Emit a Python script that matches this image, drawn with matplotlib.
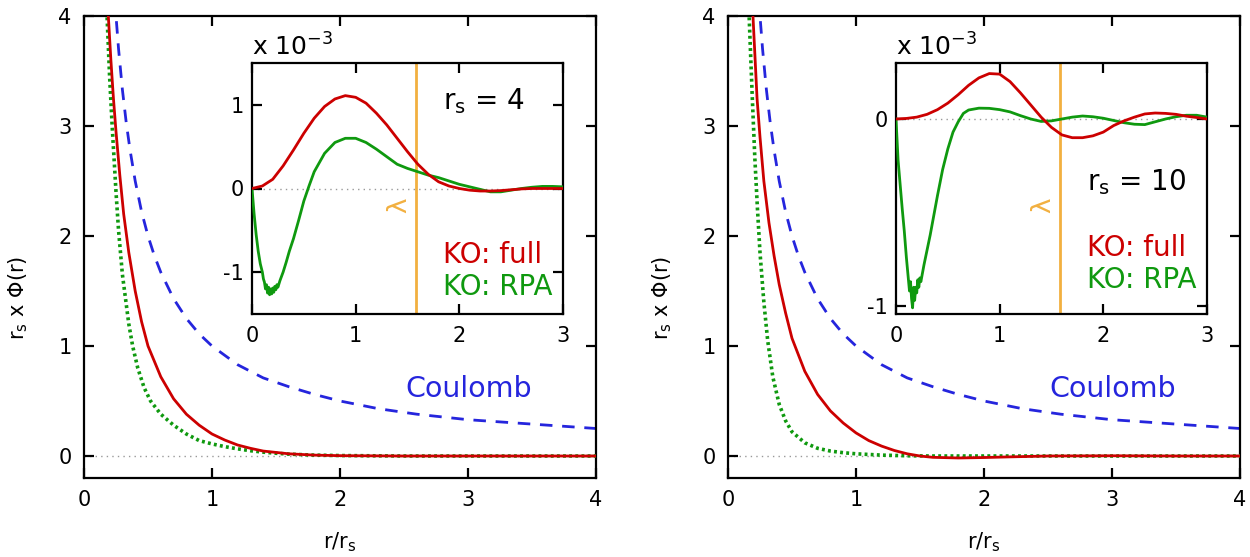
import matplotlib
matplotlib.use("Agg")
import matplotlib.pyplot as plt

plt.rcParams['font.family'] = ['DejaVu Sans']
plt.rcParams['mathtext.fontset'] = 'dejavusans'
plt.rcParams['axes.unicode_minus'] = False

RED = '#cc0000'
GREEN = '#0f990f'
BLUE = '#2525dd'
ORANGE = '#f2b040'
GRAY = '#999999'

# ---------------- main panels ----------------
coul_x = [0.24, 0.25, 0.27, 0.3, 0.33, 0.36, 0.4, 0.45, 0.5, 0.55, 0.6, 0.7, 0.8, 0.9,
          1.0, 1.2, 1.4, 1.6, 1.8, 2.0, 2.3, 2.6, 3.0, 3.5, 4.0]
coul_y = [4.17, 4.0, 3.70, 3.33, 3.03, 2.78, 2.5, 2.22, 2.0, 1.82, 1.67, 1.43, 1.25, 1.11,
          1.0, 0.83, 0.71, 0.63, 0.56, 0.5, 0.43, 0.38, 0.33, 0.29, 0.25]

rs4_full_x = [0.17, 0.19, 0.21, 0.23, 0.25, 0.28, 0.31, 0.35, 0.4, 0.45, 0.5, 0.6, 0.7,
              0.8, 0.9, 1.0, 1.1, 1.2, 1.3, 1.4, 1.6, 1.8, 2.0, 2.5, 3.0, 3.5, 4.0]
rs4_full_y = [4.6, 4.0, 3.6, 3.25, 2.95, 2.55, 2.2, 1.85, 1.5, 1.22, 1.0, 0.72, 0.52,
              0.38, 0.28, 0.2, 0.145, 0.1, 0.07, 0.045, 0.02, 0.008, 0.003, 0.0, 0.0, 0.0, 0.0]

rs4_rpa_x = [0.16, 0.18, 0.2, 0.22, 0.25, 0.27, 0.3, 0.35, 0.38, 0.42, 0.47, 0.52, 0.6, 0.7,
             0.8, 0.9, 1.0, 1.1, 1.2, 1.3, 1.4, 1.5, 1.6, 1.8, 2.0, 2.5, 3.0, 3.5, 4.0]
rs4_rpa_y = [4.6, 4.0, 3.45, 3.0, 2.4, 2.05, 1.65, 1.2, 1.0, 0.8, 0.62, 0.5, 0.38, 0.28,
             0.2, 0.14, 0.11, 0.085, 0.065, 0.048, 0.035, 0.025, 0.017, 0.008, 0.004, 0.0, 0.0, 0.0, 0.0]

rs10_full_x = [0.17, 0.195, 0.21, 0.227, 0.25, 0.28, 0.32, 0.36, 0.4, 0.45, 0.5, 0.6, 0.7, 0.8,
               0.9, 1.0, 1.1, 1.2, 1.3, 1.4, 1.5, 1.6, 1.8, 2.0, 2.2, 2.5, 3.0, 3.5, 4.0]
rs10_full_y = [4.7, 4.0, 3.65, 3.25, 2.9, 2.5, 2.12, 1.82, 1.56, 1.3, 1.07, 0.77, 0.56, 0.41,
               0.3, 0.21, 0.14, 0.09, 0.05, 0.02, 0.0, -0.012, -0.018, -0.014, -0.008, 0.0, 0.002, 0.0, 0.0]

rs10_rpa_x = [0.15, 0.165, 0.19, 0.21, 0.23, 0.25, 0.28, 0.31, 0.35, 0.4, 0.45, 0.5, 0.6, 0.7,
              0.8, 0.9, 1.0, 1.2, 1.4, 1.6, 2.0, 2.5, 3.0, 3.5, 4.0]
rs10_rpa_y = [4.6, 4.0, 3.25, 2.7, 2.25, 1.85, 1.4, 1.05, 0.72, 0.47, 0.32, 0.22, 0.12, 0.07,
              0.045, 0.03, 0.02, 0.008, 0.002, 0.0, 0.0, 0.0, 0.0, 0.0, 0.0]

# ---------------- insets (x 10^-3) ----------------
in4_full_x = [0, 0.1, 0.2, 0.3, 0.4, 0.5, 0.6, 0.7, 0.8, 0.9, 1.0, 1.1, 1.2, 1.3, 1.4, 1.5,
              1.6, 1.7, 1.8, 1.9, 2.0, 2.1, 2.2, 2.3, 2.4, 2.5, 2.6, 2.7, 2.8, 2.9, 3.0]
in4_full_y = [0, 0.03, 0.11, 0.27, 0.46, 0.66, 0.84, 0.98, 1.07, 1.11, 1.09, 1.02, 0.9, 0.76,
              0.6, 0.44, 0.29, 0.17, 0.08, 0.03, 0.0, -0.02, -0.03, -0.03, -0.025, -0.015,
              -0.005, 0.0, 0.0, 0.0, 0.0]

in4_rpa_x = [0, 0.02, 0.04, 0.06, 0.08, 0.1, 0.11, 0.12, 0.13, 0.14, 0.15, 0.16, 0.17, 0.18,
             0.19, 0.2, 0.21, 0.22, 0.23, 0.24, 0.25, 0.27, 0.3, 0.33, 0.36, 0.4, 0.45, 0.5,
             0.55, 0.6, 0.7, 0.8, 0.9, 1.0, 1.1, 1.2, 1.3, 1.4, 1.5, 1.6, 1.7, 1.8, 1.9, 2.0,
             2.1, 2.2, 2.3, 2.4, 2.5, 2.6, 2.7, 2.8, 2.9, 3.0]
in4_rpa_y = [0, -0.3, -0.55, -0.75, -0.9, -1.0, -1.08, -1.12, -1.2, -1.15, -1.25, -1.18,
             -1.27, -1.2, -1.26, -1.19, -1.24, -1.17, -1.21, -1.15, -1.18, -1.1, -1.0, -0.88,
             -0.75, -0.6, -0.38, -0.15, 0.03, 0.2, 0.42, 0.55, 0.6, 0.6, 0.55, 0.47, 0.38,
             0.29, 0.24, 0.2, 0.16, 0.13, 0.09, 0.05, 0.02, -0.01, -0.04, -0.04, -0.02, 0.0,
             0.015, 0.025, 0.025, 0.02]

in10_full_x = [0, 0.1, 0.2, 0.3, 0.4, 0.5, 0.6, 0.7, 0.8, 0.9, 1.0, 1.1, 1.2, 1.3, 1.4, 1.5,
               1.6, 1.7, 1.8, 1.9, 2.0, 2.1, 2.2, 2.3, 2.4, 2.5, 2.6, 2.7, 2.8, 2.9, 3.0]
in10_full_y = [0, 0.003, 0.01, 0.025, 0.05, 0.085, 0.13, 0.18, 0.22, 0.243, 0.24, 0.2, 0.14,
               0.075, 0.01, -0.045, -0.085, -0.1, -0.1, -0.09, -0.07, -0.035, -0.01, 0.01,
               0.027, 0.032, 0.03, 0.025, 0.015, 0.008, 0.0]

in10_rpa_x = [0, 0.02, 0.04, 0.06, 0.08, 0.1, 0.11, 0.12, 0.13, 0.14, 0.15, 0.16, 0.17, 0.18,
              0.19, 0.2, 0.21, 0.22, 0.23, 0.24, 0.25, 0.27, 0.3, 0.33, 0.36, 0.4, 0.45, 0.5,
              0.55, 0.6, 0.65, 0.7, 0.8, 0.9, 1.0, 1.1, 1.2, 1.3, 1.4, 1.5, 1.6, 1.7, 1.8, 1.9,
              2.0, 2.1, 2.2, 2.3, 2.4, 2.5, 2.6, 2.7, 2.8, 2.9, 3.0]
in10_rpa_y = [0, -0.22, -0.35, -0.48, -0.6, -0.74, -0.8, -0.86, -0.92, -0.87, -0.96, -1.01,
              -0.9, -0.97, -0.9, -0.93, -0.86, -0.9, -0.85, -0.87, -0.84, -0.78, -0.7, -0.62,
              -0.53, -0.41, -0.27, -0.16, -0.07, -0.015, 0.03, 0.048, 0.058, 0.057, 0.05,
              0.038, 0.018, 0.0, -0.013, -0.01, 0.0, 0.01, 0.016, 0.012, 0.004, -0.008, -0.02,
              -0.028, -0.03, -0.015, 0.0, 0.012, 0.02, 0.02, 0.01]

lambda_pos = 1.58
main_xticks = [0, 1, 2, 3, 4]
main_yticks = [0, 1, 2, 3, 4]
inset_xticks = [0, 1, 2, 3]

panels = [
    dict(rs='4', full=(rs4_full_x, rs4_full_y), rpa=(rs4_rpa_x, rs4_rpa_y),
         ifull=(in4_full_x, in4_full_y), irpa=(in4_rpa_x, in4_rpa_y),
         main_rect=[84, 16, 512, 462], ins_rect=[252, 63, 311, 251],
         iylim=(-1.5, 1.5), iyticks=[-1, 0, 1],
         rs_txt=(1.84, 1.04), full_txt=(1.84, -0.80), rpa_txt=(1.84, -1.18), lam_txt=(1.42, -0.2)),
    dict(rs='10', full=(rs10_full_x, rs10_full_y), rpa=(rs10_rpa_x, rs10_rpa_y),
         ifull=(in10_full_x, in10_full_y), irpa=(in10_rpa_x, in10_rpa_y),
         main_rect=[728, 16, 512, 462], ins_rect=[896, 63, 311, 251],
         iylim=(-1.043, 0.2995), iyticks=[-1, 0],
         rs_txt=(1.84, -0.34), full_txt=(1.84, -0.69), rpa_txt=(1.84, -0.86), lam_txt=(1.42, -0.46)),
]

W, H = 1250, 557
fig = plt.figure(figsize=(W / 100, H / 100), dpi=100)


def rect(px):
    l, t, w, h = px
    return [l / W, 1 - (t + h) / H, w / W, h / H]


def style(ax, length):
    for s in ax.spines.values():
        s.set_linewidth(1.6)
    ax.tick_params(direction='in', length=length, width=1.6, top=True, right=True,
                   labelsize=15)


for p in panels:
    ax = fig.add_axes(rect(p['main_rect']))
    style(ax, 7)
    ax.tick_params(axis='x', pad=9)
    ax.tick_params(axis='y', pad=9)
    ax.set_xlim(0, 4)
    ax.set_ylim(-0.2, 4)
    ax.set_xticks(main_xticks)
    ax.set_yticks(main_yticks)
    ax.axhline(0, color=GRAY, lw=1.0, ls=(0, (1, 3)), zorder=1)
    ax.plot(coul_x, coul_y, color=BLUE, lw=2.0, ls=(0, (4.5, 3.5)), zorder=2)
    ax.plot(*p['rpa'], color=GREEN, lw=2.6, ls=(0, (0.8, 0.9)), zorder=3)
    ax.plot(*p['full'], color=RED, lw=2.0, zorder=4)
    ax.text(2.51, 0.61, 'Coulomb', color=BLUE, fontsize=20.5, va='center', ha='left')
    ax.set_xlabel(r'r/r$_\mathregular{s}$', fontsize=15, labelpad=14)
    ax.set_ylabel(r'r$_\mathregular{s}$ x $\Phi$(r)', fontsize=15, labelpad=20)
    ax.yaxis.label.set_y(0.39)

    ai = fig.add_axes(rect(p['ins_rect']))
    style(ai, 7)
    ai.tick_params(axis='x', pad=9)
    ai.tick_params(axis='y', pad=6)
    ai.set_xlim(0, 3)
    ai.set_ylim(*p['iylim'])
    ai.set_xticks(inset_xticks)
    ai.set_yticks(p['iyticks'])
    ai.axhline(0, color=GRAY, lw=1.0, ls=(0, (1, 3)), zorder=1)
    ai.axvline(lambda_pos, color=ORANGE, lw=2.0, zorder=2)
    ai.plot(*p['irpa'], color=GREEN, lw=2.0, zorder=3)
    ai.plot(*p['ifull'], color=RED, lw=2.0, zorder=4)
    ai.text(*p['rs_txt'], r'r$_\mathregular{s}$ = ' + p['rs'], fontsize=20, va='center', ha='left')
    ai.text(*p['full_txt'], 'KO: full', color=RED, fontsize=20, va='center', ha='left')
    ai.text(*p['rpa_txt'], 'KO: RPA', color=GREEN, fontsize=20, va='center', ha='left')
    ai.text(*p['lam_txt'], 'λ', color=ORANGE, fontsize=19, rotation=90, va='center', ha='center')
    ai.text(0.0, 1.01, r'x 10$^\mathregular{-3}$', transform=ai.transAxes, fontsize=18,
            va='bottom', ha='left')

fig.savefig('out.png', dpi=100)
